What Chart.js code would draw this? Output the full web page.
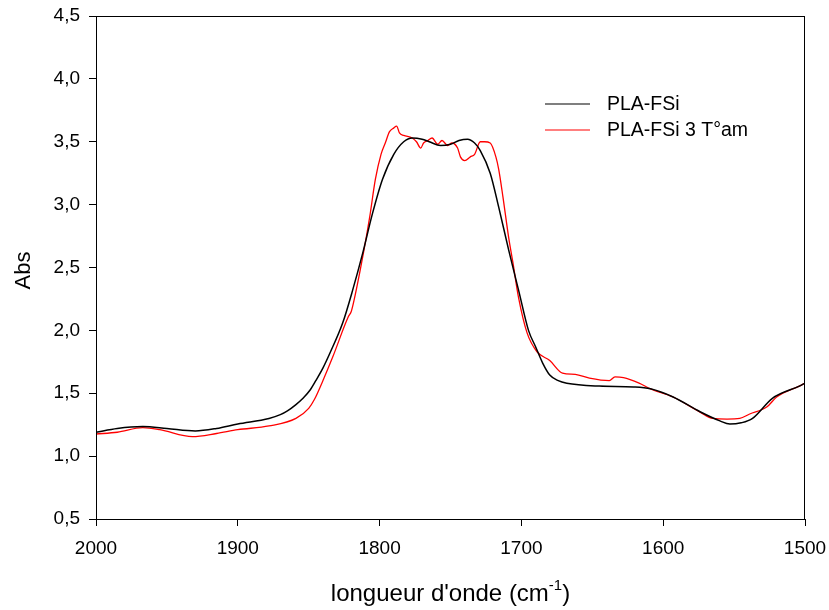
<!DOCTYPE html>
<html>
<head>
<meta charset="utf-8">
<script src="https://cdn.jsdelivr.net/npm/chart.js@4.4.1/dist/chart.umd.min.js"></script>
<style>
  html, body { margin: 0; padding: 0; background: #fff; }
  #wrap { width: 829px; height: 610px; }
</style>
</head>
<body>
<div id="wrap"><canvas id="spectre"></canvas></div>
<script>
// Spectres IR, zone 2000-1500 cm-1
// PLA-FSi (noir) vs PLA-FSi 3 T°am (rouge)

var seriesLabels = ['PLA-FSi', 'PLA-FSi 3 T°am'];
var seriesColors = ['#000000', '#ff0000'];

// PLA-FSi
var waveBlack = [2000, 1985, 1967, 1950, 1930, 1915, 1900, 1878, 1870, 1865, 1859, 1854, 1849, 1845, 1840, 1835, 1826, 1819, 1812, 1805, 1798, 1790, 1783, 1777, 1770, 1765, 1757, 1750, 1744, 1738, 1733, 1729, 1722, 1716, 1709, 1702, 1695, 1690, 1685, 1680, 1674, 1668, 1645, 1621, 1609, 1593, 1574, 1560, 1553, 1545, 1537, 1523, 1504, 1500];
var absBlack  = [1.19, 1.22, 1.235, 1.22, 1.20, 1.22, 1.256, 1.30, 1.33, 1.36, 1.41, 1.46, 1.526, 1.60, 1.70, 1.82, 2.06, 2.32, 2.61, 2.93, 3.20, 3.40, 3.50, 3.53, 3.52, 3.50, 3.47, 3.48, 3.51, 3.52, 3.49, 3.43, 3.25, 2.98, 2.64, 2.32, 2.00, 1.87, 1.74, 1.645, 1.60, 1.58, 1.557, 1.55, 1.535, 1.47, 1.353, 1.28, 1.255, 1.265, 1.30, 1.46, 1.557, 1.58];

// PLA-FSi 3 T°am
var waveRed = [2000, 1985, 1967, 1955, 1932, 1915, 1900, 1878, 1859, 1850, 1846, 1840, 1833, 1822, 1820, 1818, 1811, 1807, 1803, 1799, 1796, 1793, 1790, 1788, 1786, 1783, 1777, 1774, 1771, 1769, 1766, 1763, 1759, 1756, 1752, 1749, 1745, 1743, 1740, 1736, 1733, 1729, 1726, 1722, 1718, 1716, 1713, 1709, 1706, 1702, 1696, 1689, 1680, 1671, 1662, 1652, 1638, 1634, 1628, 1617, 1609, 1593, 1574, 1565, 1555, 1546, 1539, 1527, 1520, 1504, 1500];
var absRed  = [1.176, 1.19, 1.226, 1.21, 1.155, 1.18, 1.21, 1.24, 1.30, 1.38, 1.45, 1.60, 1.79, 2.11, 2.15, 2.24, 2.64, 2.90, 3.20, 3.40, 3.49, 3.58, 3.61, 3.625, 3.57, 3.55, 3.53, 3.50, 3.45, 3.49, 3.51, 3.53, 3.48, 3.51, 3.47, 3.49, 3.45, 3.38, 3.35, 3.38, 3.40, 3.50, 3.50, 3.49, 3.38, 3.28, 3.06, 2.74, 2.54, 2.26, 1.98, 1.83, 1.76, 1.66, 1.65, 1.62, 1.60, 1.63, 1.624, 1.58, 1.535, 1.47, 1.35, 1.30, 1.295, 1.30, 1.335, 1.39, 1.47, 1.557, 1.58];

function toPoints(xs, ys) {
  var pts = [];
  for (var i = 0; i < xs.length; i++) pts.push({ x: xs[i], y: ys[i] });
  return pts;
}

var FONT = 'Liberation Sans, Arial, sans-serif';

// cadre, legende et titres des axes
var decor = {
  id: 'decor',
  afterDraw: function (chart) {
    var ctx = chart.ctx;
    var a = chart.chartArea;
    ctx.save();
    ctx.strokeStyle = '#000';
    ctx.lineWidth = 1;
    ctx.strokeRect(a.left + 0.5, a.top + 0.5, a.right - a.left - 1, a.bottom - a.top);

    // legende
    ctx.font = '19.5px ' + FONT;
    ctx.textBaseline = 'middle';
    ctx.textAlign = 'left';
    chart.data.datasets.forEach(function (ds, i) {
      var y = 104 + i * 26;
      ctx.strokeStyle = ds.borderColor;
      ctx.lineWidth = 1.2;
      ctx.beginPath();
      ctx.moveTo(545, y);
      ctx.lineTo(590, y);
      ctx.stroke();
      ctx.fillStyle = '#000';
      ctx.fillText(ds.label, 607, y + 1);
    });

    // titre axe x avec exposant
    ctx.fillStyle = '#000';
    ctx.textBaseline = 'alphabetic';
    var big = '24px ' + FONT, small = '15px ' + FONT;
    var p1 = "longueur d'onde (cm", p2 = '-1', p3 = ')';
    ctx.font = big; var w1 = ctx.measureText(p1).width, w3 = ctx.measureText(p3).width;
    ctx.font = small; var w2 = ctx.measureText(p2).width;
    var x0 = (a.left + a.right) / 2 - (w1 + w2 + w3) / 2;
    var yb = 601;
    ctx.font = big; ctx.fillText(p1, x0, yb);
    ctx.font = small; ctx.fillText(p2, x0 + w1, yb - 11);
    ctx.font = big; ctx.fillText(p3, x0 + w1 + w2, yb);

    // titre axe y
    ctx.translate(30, (a.top + a.bottom) / 2 + 3);
    ctx.rotate(-Math.PI / 2);
    ctx.textAlign = 'center';
    ctx.font = '22px ' + FONT;
    ctx.fillText('Abs', 0, 0);
    ctx.restore();
  }
};

new Chart(document.getElementById('spectre'), {
  type: 'scatter',
  data: {
    datasets: [{
      label: seriesLabels[0],
      data: toPoints(waveBlack, absBlack),
      showLine: true,
      borderColor: seriesColors[0],
      borderWidth: 1.5,
      pointRadius: 0,
      cubicInterpolationMode: 'monotone'
    }, {
      label: seriesLabels[1],
      data: toPoints(waveRed, absRed),
      showLine: true,
      borderColor: seriesColors[1],
      borderWidth: 1.3,
      pointRadius: 0,
      cubicInterpolationMode: 'monotone'
    }]
  },
  options: {
    responsive: true,
    maintainAspectRatio: false,
    animation: false,
    layout: { padding: { top: 16, right: 24, left: 0, bottom: 0 } },
    plugins: {
      legend: { display: false },
      tooltip: { enabled: false }
    },
    scales: {
      x: {
        type: 'linear',
        reverse: true,
        min: 1500,
        max: 2000,
        afterFit: function (s) { s.height = 91; s.paddingLeft = 0; s.paddingRight = 0; },
        grid: { drawOnChartArea: false, drawTicks: true, tickLength: 7, color: '#000' },
        border: { color: '#000' },
        ticks: {
          stepSize: 100,
          color: '#000',
          padding: 11,
          maxRotation: 0,
          font: { family: FONT, size: 19 },
          callback: function (v) { return String(v); }
        }
      },
      y: {
        min: 0.5,
        max: 4.5,
        afterFit: function (s) { s.width = 96; s.paddingTop = 0; s.paddingBottom = 0; },
        grid: { drawOnChartArea: false, drawTicks: true, tickLength: 7, color: '#000' },
        border: { color: '#000' },
        ticks: {
          stepSize: 0.5,
          color: '#000',
          padding: 9,
          font: { family: FONT, size: 19 },
          callback: function (v) { return v.toFixed(1).replace('.', ','); }
        }
      }
    }
  },
  plugins: [decor]
});
</script>
</body>
</html>
